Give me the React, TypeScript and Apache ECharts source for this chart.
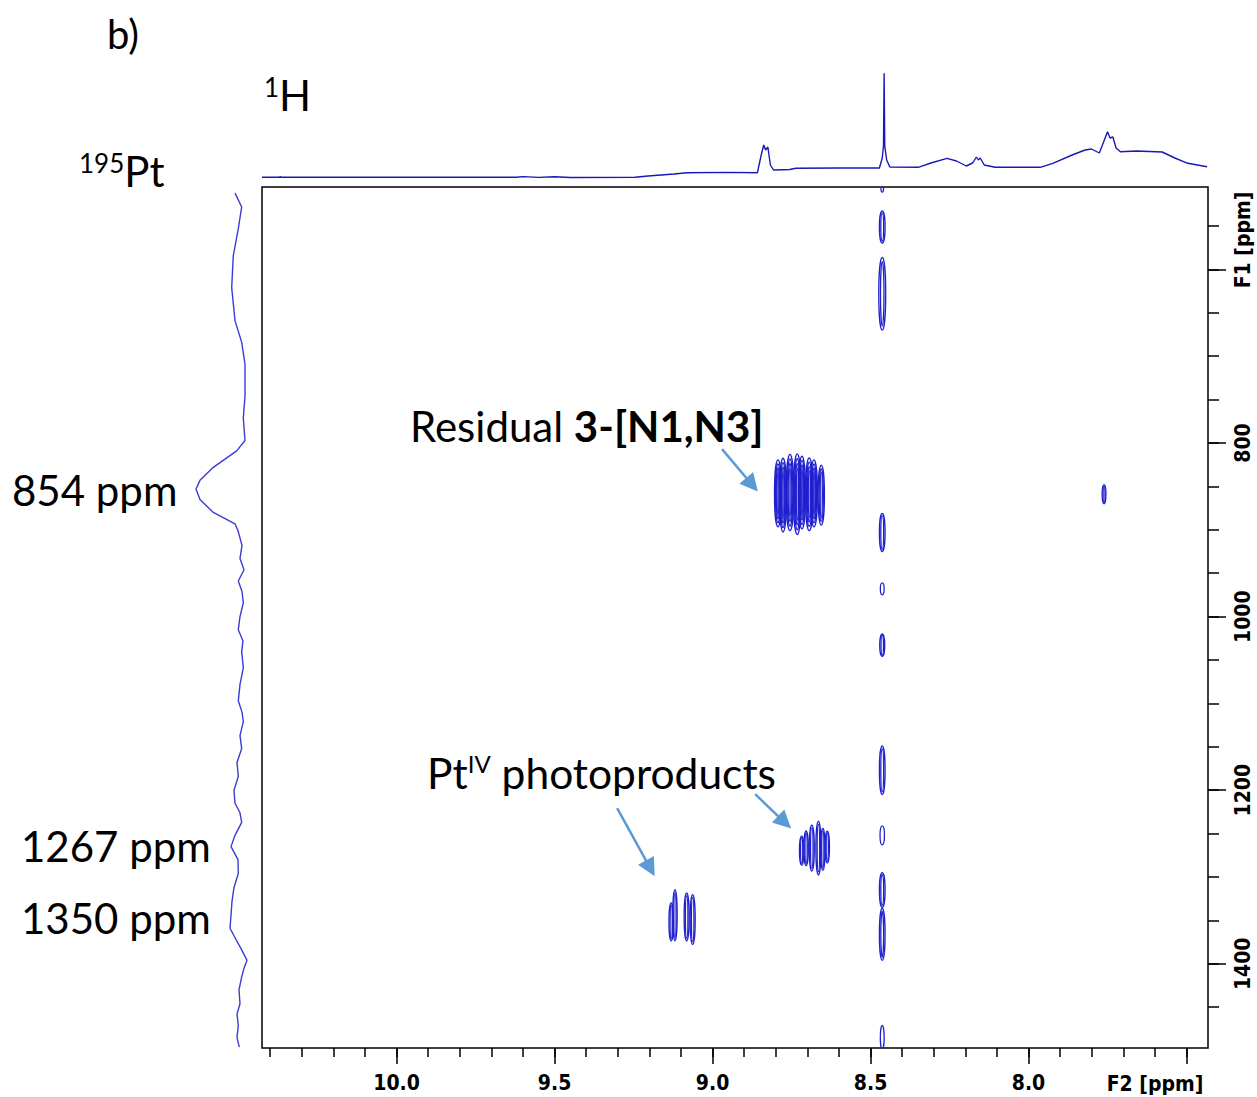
import React, { useEffect, useRef } from "react";
import * as echarts from "echarts";

// ---------- axis ranges & ticks ----------
const F2_MIN = 7.432;
const F2_MAX = 10.426;
const F1_MIN = 505;
const F1_MAX = 1497;

const f2MajorTicks = [7.5, 8.0, 8.5, 9.0, 9.5, 10.0];
const f2LabelValues = [8.0, 8.5, 9.0, 9.5, 10.0];
const f2MinorTicks = [
  7.5, 7.6, 7.7, 7.8, 7.9, 8.0, 8.1, 8.2, 8.3, 8.4, 8.5, 8.6, 8.7, 8.8, 8.9,
  9.0, 9.1, 9.2, 9.3, 9.4, 9.5, 9.6, 9.7, 9.8, 9.9, 10.0, 10.1, 10.2, 10.3, 10.4,
];
const f1MajorTicks = [600, 800, 1000, 1200, 1400];
const f1LabelValues = [800, 1000, 1200, 1400];
const f1MinorTicks = [
  550, 600, 650, 700, 750, 800, 850, 900, 950, 1000, 1050, 1100, 1150, 1200,
  1250, 1300, 1350, 1400, 1450,
];

// ---------- 1H projection (ppm, intensity) ----------
const protonSpectrum: [number, number][] = [
  [10.426, 2.7], [10.37, 2.7], [10.368, 3.6], [10.366, 2.7], [9.62, 2.7], [9.6, 3.4],
  [9.55, 2.6], [9.5, 3.2], [9.45, 2.5], [9.245, 2.8], [9.204, 4], [9.122, 6],
  [9.081, 7.3], [8.95, 7.6], [8.858, 7.3], [8.846, 25], [8.838, 35], [8.832, 30],
  [8.825, 33], [8.817, 15], [8.807, 10], [8.756, 10.5], [8.736, 11.7], [8.6, 12],
  [8.472, 12], [8.463, 22], [8.459, 34], [8.457, 106.7], [8.455, 34], [8.449, 20],
  [8.439, 13], [8.349, 12.7], [8.309, 17], [8.258, 21.7], [8.228, 19], [8.197, 14],
  [8.177, 17], [8.165, 23], [8.159, 20], [8.153, 22], [8.14, 15], [8.106, 12.7],
  [7.963, 12.7], [7.923, 16.7], [7.862, 25], [7.821, 30], [7.801, 31], [7.776, 27],
  [7.76, 40], [7.75, 48.3], [7.742, 42], [7.733, 43], [7.723, 32], [7.709, 28.3],
  [7.658, 29], [7.577, 28], [7.537, 22], [7.496, 16.7], [7.435, 13.3],
];

// ---------- 195Pt projection (ppm, intensity) ----------
const platinumSpectrum: [number, number][] = [
  [512, 15], [528, 8.3], [553, 11.7], [584, 16.7], [621, 18.3], [659, 15],
  [684, 8.3], [709, 5], [746, 5], [771, 6.7], [797, 5], [809, 13.3],
  [828, 36.7], [843, 50], [853, 54], [865, 50], [880, 36.7], [893, 15],
  [902, 11.7], [918, 8], [933, 10], [946, 6], [959, 11.7], [971, 8], [984, 6.7],
  [1000, 10], [1015, 11.7], [1028, 7], [1040, 8.3], [1059, 6.7], [1078, 10],
  [1097, 11.7], [1110, 8], [1121, 6.7], [1137, 10], [1152, 8.3], [1168, 13],
  [1184, 11.7], [1200, 16], [1215, 15], [1226, 10], [1237, 8.3], [1252, 15],
  [1265, 19], [1280, 12], [1296, 11.7], [1312, 16], [1328, 18], [1344, 19],
  [1359, 20], [1372, 14], [1384, 8.3], [1396, 3], [1405, 6], [1415, 8.3],
  [1430, 11], [1446, 10], [1458, 13], [1471, 11.7], [1485, 13], [1496, 10.7],
];

// ---------- 2D cross peaks: [F2 ppm, F1 ppm, half-width ppm, half-height ppm, levels] ----------
const solventColumnPeaks: [number, number, number, number, number][] = [
  [8.463, 507, 0.004, 4, 1],
  [8.463, 551, 0.009, 18.5, 2],
  [8.463, 628, 0.011, 42, 2],
  [8.463, 903, 0.009, 22, 2],
  [8.463, 968, 0.006, 7, 1],
  [8.463, 1033, 0.008, 13, 2],
  [8.463, 1177, 0.009, 28, 2],
  [8.463, 1252, 0.007, 11, 1],
  [8.463, 1315, 0.009, 20, 2],
  [8.463, 1366, 0.009, 30, 2],
  [8.463, 1485, 0.006, 14, 1],
];
const residualPeaks: [number, number, number, number, number][] = [
  [8.793, 858, 0.011, 38.5, 4],
  [8.777, 860, 0.011, 42.5, 4],
  [8.755, 857, 0.012, 44, 4],
  [8.732, 859, 0.012, 46.5, 4],
  [8.717, 857, 0.011, 42, 4],
  [8.694, 859, 0.012, 42, 4],
  [8.679, 858, 0.011, 38.5, 4],
  [8.656, 860, 0.01, 34.5, 3],
];
const farPeaks: [number, number, number, number, number][] = [
  [7.761, 859, 0.006, 11, 2],
];
const photoproductAPeaks: [number, number, number, number, number][] = [
  [8.718, 1269.5, 0.007, 16.7, 2],
  [8.704, 1267, 0.007, 20, 2],
  [8.686, 1266.7, 0.008, 26.4, 2],
  [8.665, 1266.7, 0.008, 31, 2],
  [8.651, 1268, 0.007, 24, 2],
  [8.637, 1265.5, 0.007, 18.4, 2],
];
const photoproductBPeaks: [number, number, number, number, number][] = [
  [9.131, 1351.7, 0.007, 21.8, 2],
  [9.119, 1344, 0.007, 29.5, 2],
  [9.082, 1346, 0.008, 27.6, 2],
  [9.063, 1349, 0.008, 28.7, 2],
];

// ---------- annotation arrows: [[F2 start, F1 start], [F2 end, F1 end]] ----------
const arrows: [[number, number], [number, number]][] = [
  [[8.97, 807], [8.875, 848]],
  [[8.865, 1204.6], [8.772, 1237]],
  [[9.302, 1220.7], [9.197, 1290]],
];

const CONTOUR = "#2020d0";
const AXIS_FONT = "'Liberation Sans Narrow', 'DejaVu Sans Condensed', sans-serif";
const TEXT_FONT = "Lato, 'Open Sans', sans-serif";

export default function App() {
  const ref = useRef<HTMLDivElement>(null);

  useEffect(() => {
    document.body.style.margin = "0";
    document.body.style.overflow = "hidden";
    document.documentElement.style.overflow = "hidden";
    if (!ref.current) return;
    const chart = echarts.init(ref.current, null, { renderer: "svg" });

    const allPeaks = [
      ...solventColumnPeaks,
      ...residualPeaks,
      ...farPeaks,
      ...photoproductAPeaks,
      ...photoproductBPeaks,
    ];

    const tickStyle = { color: "#000", width: 1.5 };

    const option: any = {
      animation: false,
      backgroundColor: "#fff",
      grid: [
        {
          left: 262, right: 49, top: 187, bottom: 49,
          show: true, borderColor: "#000", borderWidth: 1.5,
          backgroundColor: "transparent", outerBoundsMode: "none",
        },
        { left: 262, right: 49, top: 60, height: 120, outerBoundsMode: "none" },
        { left: 190, width: 60, top: 187, bottom: 49, outerBoundsMode: "none" },
      ],
      xAxis: [
        {
          gridIndex: 0, type: "value", min: F2_MIN, max: F2_MAX, inverse: true,
          position: "bottom",
          axisLine: { show: false },
          splitLine: { show: false },
          axisTick: { show: true, length: 16, lineStyle: tickStyle, customValues: f2MajorTicks },
          axisLabel: {
            show: true, customValues: f2LabelValues, margin: 24,
            formatter: (v: number) => v.toFixed(1),
            fontFamily: AXIS_FONT, fontWeight: "bold", fontSize: 21, color: "#000",
          },
        },
        {
          gridIndex: 0, type: "value", min: F2_MIN, max: F2_MAX, inverse: true,
          position: "bottom",
          axisLine: { show: false },
          splitLine: { show: false },
          axisTick: { show: true, length: 9, lineStyle: tickStyle, customValues: f2MinorTicks },
          axisLabel: { show: false },
        },
        { gridIndex: 1, type: "value", min: F2_MIN, max: F2_MAX, inverse: true, show: false },
        { gridIndex: 2, type: "value", min: 0, max: 60, inverse: true, show: false },
      ],
      yAxis: [
        {
          gridIndex: 0, type: "value", min: F1_MIN, max: F1_MAX, inverse: true,
          position: "right",
          axisLine: { show: false },
          splitLine: { show: false },
          axisTick: { show: true, length: 18, lineStyle: tickStyle, customValues: f1MajorTicks },
          axisLabel: {
            show: true, customValues: f1LabelValues, margin: 24, rotate: 90,
            formatter: (v: number) => String(v),
            fontFamily: AXIS_FONT, fontWeight: "bold", fontSize: 21, color: "#000",
          },
        },
        {
          gridIndex: 0, type: "value", min: F1_MIN, max: F1_MAX, inverse: true,
          position: "right",
          axisLine: { show: false },
          splitLine: { show: false },
          axisTick: { show: true, length: 11, lineStyle: tickStyle, customValues: f1MinorTicks },
          axisLabel: { show: false },
        },
        { gridIndex: 1, type: "value", min: 0, max: 120, show: false },
        { gridIndex: 2, type: "value", min: F1_MIN, max: F1_MAX, inverse: true, show: false },
      ],
      series: [
        {
          type: "custom",
          xAxisIndex: 0, yAxisIndex: 0,
          clip: true,
          encode: { x: 0, y: 1 },
          data: allPeaks,
          renderItem: (params: any, api: any) => {
            const c = api.coord([api.value(0), api.value(1)]);
            const s = api.size([api.value(2), api.value(3)]);
            const rx0 = Math.abs(s[0]);
            const ry0 = Math.abs(s[1]);
            const levels = api.value(4);
            const children: any[] = [];
            for (let k = 0; k < levels; k++) {
              const fx = 1 - k / levels;
              const fy = 1 - k * 0.12;
              children.push({
                type: "ellipse",
                shape: { cx: c[0], cy: c[1], rx: Math.max(rx0 * fx, 0.7), ry: ry0 * fy },
                style: { fill: "none", stroke: CONTOUR, lineWidth: 1.3 },
              });
            }
            return { type: "group", children };
          },
        },
        {
          type: "line",
          xAxisIndex: 0, yAxisIndex: 0,
          data: [],
          silent: true,
          markLine: {
            silent: true,
            symbol: ["none", "triangle"],
            symbolSize: 18,
            label: { show: false },
            lineStyle: { color: "#5b9bd5", width: 2.5, type: "solid" },
            itemStyle: { color: "#5b9bd5" },
            emphasis: { disabled: true },
            data: arrows.map(([a, b]) => [{ coord: a }, { coord: b }]),
          },
        },
        {
          type: "line",
          xAxisIndex: 2, yAxisIndex: 2,
          data: protonSpectrum,
          showSymbol: false,
          lineStyle: { color: "#1818b8", width: 1.4 },
          silent: true,
        },
        {
          type: "line",
          xAxisIndex: 3, yAxisIndex: 3,
          data: platinumSpectrum.map(([ppm, i]) => [i, ppm]),
          showSymbol: false,
          lineStyle: { color: "#3b3bd6", width: 1.4 },
          silent: true,
        },
      ],
      graphic: [
        { type: "text", left: 107, top: 14, style: { text: "b)", font: `40px ${TEXT_FONT}`, fill: "#000" } },
        {
          type: "text", left: 264, top: 74,
          style: {
            text: "{s|1}{n|H}", fill: "#000",
            rich: {
              s: { fontSize: 26, fontFamily: TEXT_FONT, verticalAlign: "top", fill: "#000" },
              n: { fontSize: 42, fontFamily: TEXT_FONT, fill: "#000" },
            },
          },
        },
        {
          type: "text", left: 79, top: 150,
          style: {
            text: "{s|195}{n|Pt}", fill: "#000",
            rich: {
              s: { fontSize: 26, fontFamily: TEXT_FONT, verticalAlign: "top", fill: "#000" },
              n: { fontSize: 42, fontFamily: TEXT_FONT, fill: "#000" },
            },
          },
        },
        { type: "text", left: 12, top: 469, style: { text: "854 ppm", font: `42px ${TEXT_FONT}`, fill: "#000" } },
        { type: "text", left: 21, top: 825, style: { text: "1267 ppm", font: `42px ${TEXT_FONT}`, fill: "#000" } },
        { type: "text", left: 21, top: 897, style: { text: "1350 ppm", font: `42px ${TEXT_FONT}`, fill: "#000" } },
        {
          type: "text", left: 410, top: 405,
          style: {
            text: "{n|Residual }{b|3-[N1,N3]}", fill: "#000",
            rich: {
              n: { fontSize: 42, fontFamily: TEXT_FONT, fill: "#000" },
              b: { fontSize: 42, fontFamily: TEXT_FONT, fontWeight: "bold", fill: "#000" },
            },
          },
        },
        {
          type: "text", left: 427, top: 751,
          style: {
            text: "{n|Pt}{s|IV}{n| photoproducts}", fill: "#000",
            rich: {
              n: { fontSize: 42.5, fontFamily: TEXT_FONT, fill: "#000" },
              s: { fontSize: 24, fontFamily: TEXT_FONT, verticalAlign: "top", fill: "#000" },
            },
          },
        },
        {
          type: "text", x: 1155, y: 1084,
          style: {
            text: "F2 [ppm]", font: `bold 21px ${AXIS_FONT}`, fill: "#000",
            textAlign: "center", textVerticalAlign: "middle",
          },
        },
        {
          type: "text", x: 1243, y: 240, rotation: Math.PI / 2,
          style: {
            text: "F1 [ppm]", font: `bold 21px ${AXIS_FONT}`, fill: "#000",
            textAlign: "center", textVerticalAlign: "middle",
          },
        },
      ],
    };

    chart.setOption(option);
    return () => chart.dispose();
  }, []);

  return <div ref={ref} style={{ width: 1257, height: 1097 }} />;
}
